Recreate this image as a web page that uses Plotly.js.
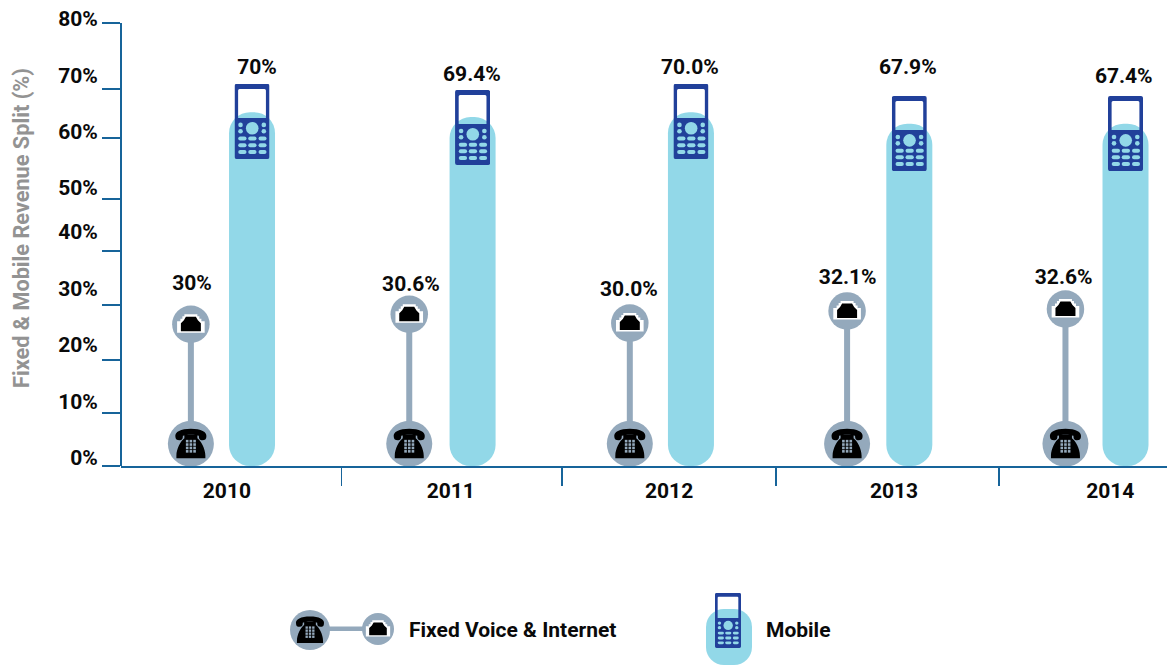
<!DOCTYPE html>
<html><head><meta charset="utf-8">
<script src="https://cdn.plot.ly/plotly-3.0.1.min.js"></script>
<style>html,body{margin:0;padding:0;background:#fff}</style>
</head><body><div id="chart" style="width:1167px;height:665px"></div>
<script>
// --- data ---
const years = [2010, 2011, 2012, 2013, 2014];
const fixedLabels = ['30%', '30.6%', '30.0%', '32.1%', '32.6%'];
const mobileLabels = ['70%', '69.4%', '70.0%', '67.9%', '67.4%'];
const fixedLevel = [25.6, 27.4, 25.8, 28.0, 28.35];
const mobileBarTop = [63.9, 63.0, 63.9, 61.8, 61.8];
const mobilePhoneTop = [69.0, 67.9, 69.0, 66.8, 66.8];
const fixedBase = [4, 4, 4, 4, 4];
const fixedX = [2009.86, 2010.86, 2011.87, 2012.865, 2013.865];
const mobileX = [2010.14, 2011.15, 2012.15, 2013.15, 2014.14];
const fixedLabelX = [2009.865, 2010.868, 2011.866, 2012.868, 2013.857];
const mobileLabelX = [2010.1625, 2011.147, 2012.145, 2013.143, 2014.132];
const fixedLabelLevel = [32.7, 32.6, 31.7, 33.8, 33.8];
const mobileLabelLevel = [71.8, 70.4, 71.65, 71.65, 70.2];
const yTickMarks = [0, 9.6, 19.2, 29, 38.8, 48.2, 59.2, 68, 80];
const yLabelLevels = [1.44, 11.71, 21.96, 31.98, 42.25, 50.18, 60.34, 70.54, 80.86];
const yLabels = ['0%','10%','20%','30%','40%','50%','60%','70%','80%'];
const xSeparators = [2010.55, 2011.56, 2012.54, 2013.56];
const xLabelLevels = [2010.025, 2011.05, 2012.05, 2013.08, 2014.07];

// --- styles ---
const BLUE = '#92d8e8', NAVY = '#21409a', SLATE = '#94a9bc', AXIS = '#17649a';
const FONT = 'Roboto, sans-serif';
const PX_X = 218.4, PX_Y = 5.5375;
const barW = 46 / PX_X;

const svg = s => 'data:image/svg+xml;base64,' + btoa(s);
const phoneSvg = svg(`<svg xmlns="http://www.w3.org/2000/svg" width="350" height="750" viewBox="0 0 35 75">
<path fill-rule="evenodd" fill="${NAVY}" d="M2 0H33A2 2 0 0 1 35 2V73A2 2 0 0 1 33 75H2A2 2 0 0 1 0 73V2A2 2 0 0 1 2 0ZM5 5A1.500 1.500 0 0 0 3.600 6.500V34H31.400V6.500A1.500 1.500 0 0 0 30 5Z"/>
<g fill="${BLUE}">
<circle cx="17.700" cy="44.300" r="6.300"/><circle cx="6" cy="41" r="2.300"/><circle cx="6" cy="47.300" r="2.300"/><circle cx="29.300" cy="41" r="2.300"/><circle cx="29.300" cy="47.300" r="2.300"/>
${[54.7,61.3,68].map(y => [[3.7,8.3],[13.7,8.3],[24,8]].map(k=>`<rect x="${k[0]}" y="${y-2}" width="${k[1]}" height="4" rx="2"/>`).join('')).join('')}
</g></svg>`);
const phoneGlyph = (cx, cy, s) => `<g transform="translate(${cx} ${cy}) scale(${s})">
<path fill="#000" d="M-15.500 -7C-16.500 -12 -10 -15 0 -15C10 -15 16.500 -12 15.500 -7C15.500 -4.500 14 -3.500 11.500 -3.500C9 -3.500 8 -4.500 8 -8C4 -9.500 -4 -9.500 -8 -8C-8 -4.500 -9 -3.500 -11.500 -3.500C-14 -3.500 -15.500 -4.500 -15.500 -7Z"/>
<path fill="#000" d="M-6.500 -9H6.500V-5.500C10 -3 14.500 5 14.500 12V14.500H-14.500V12C-14.500 5 -10 -3 -6.500 -5.500Z"/>
<g fill="${SLATE}">${[-4,-0.600,2.800,6.200].map(y=>[-5,-1.300,2.400].map(x=>`<rect x="${x}" y="${y}" width="2.600" height="2.600"/>`).join('')).join('')}</g></g>`;
const telSvg = svg(`<svg xmlns="http://www.w3.org/2000/svg" width="400" height="400" viewBox="-20 -20 40 40">${phoneGlyph(0,0,1)}</svg>`);
const jackGlyph = (cx, cy, s) => `<g transform="translate(${cx} ${cy}) scale(${s})">
<path fill="#fff" d="M-6.500 -10H6.500V-8H8.500V-5.500H10.500V-3H13.800V8.500H-13.800V-3H-10.500V-5.500H-8.500V-8H-6.500Z"/>
<path fill="#000" d="M-10 7V-1L-7 -4L-5 -7.500H5L7 -4L10 -1V7Z"/></g>`;
const jackSvg = svg(`<svg xmlns="http://www.w3.org/2000/svg" width="300" height="300" viewBox="-15 -15 30 30">${jackGlyph(0,0,1)}</svg>`);
const legendFixedSvg = svg(`<svg xmlns="http://www.w3.org/2000/svg" width="1100" height="420" viewBox="0 0 110 42">
<rect x="20" y="17.500" width="70" height="4.500" fill="${SLATE}"/><circle cx="20" cy="21" r="20" fill="${SLATE}"/><circle cx="88" cy="20" r="16" fill="${SLATE}"/>
${phoneGlyph(20,21,0.9)}${jackGlyph(88,20,0.88)}</svg>`);
const legendMobileBg = svg(`<svg xmlns="http://www.w3.org/2000/svg" width="460" height="560" viewBox="0 0 46 56"><rect width="46" height="56" rx="18" fill="${BLUE}"/></svg>`);

const common = {xaxis: 'x', yaxis: 'y', hoverinfo: 'skip', showlegend: false, cliponaxis: false};
const traces = [
  // a bar with an explicit base is rounded at both ends
  {...common, type: 'bar', x: mobileX, base: mobileBarTop.map(() => 0), y: mobileBarTop, width: barW,
    marker: {color: BLUE, line: {width: 0}, cornerradius: 21}},
  // connector stems between the two fixed-line medallions
  ...years.map((y, i) => ({...common, type: 'scatter', mode: 'lines', x: [fixedX[i], fixedX[i]], y: [fixedBase[i], fixedLevel[i]],
    line: {color: SLATE, width: 6}})),
  {...common, type: 'scatter', mode: 'markers', x: fixedX, y: fixedBase, marker: {size: 46, color: SLATE}},
  {...common, type: 'scatter', mode: 'markers', x: fixedX, y: fixedLevel, marker: {size: 37.5, color: SLATE}},
  {...common, type: 'scatter', mode: 'text', x: fixedLabelX, y: fixedLabelLevel, text: fixedLabels, textposition: 'middle center',
    textfont: {family: FONT, size: 21, weight: 700, color: '#0a0a0a'}},
  {...common, type: 'scatter', mode: 'text', x: mobileLabelX, y: mobileLabelLevel, text: mobileLabels, textposition: 'middle center',
    textfont: {family: FONT, size: 21, weight: 700, color: '#0a0a0a'}},
  // carrier of the tick-mark axes
  {...common, type: 'scatter', mode: 'markers', x: [years[0]], y: [0], xaxis: 'x2', yaxis: 'y2', marker: {size: 1, opacity: 0}},
];

const images = [];
years.forEach((y, i) => {
  images.push({source: phoneSvg, xref: 'x', yref: 'y', x: mobileX[i], y: mobilePhoneTop[i], sizex: 35 / PX_X, sizey: 75 / PX_Y,
    xanchor: 'center', yanchor: 'top', sizing: 'stretch', layer: 'above'});
  images.push({source: telSvg, xref: 'x', yref: 'y', x: fixedX[i], y: fixedBase[i], sizex: 40 / PX_X, sizey: 40 / PX_Y,
    xanchor: 'center', yanchor: 'middle', sizing: 'stretch', layer: 'above'});
  images.push({source: jackSvg, xref: 'x', yref: 'y', x: fixedX[i], y: fixedLevel[i], sizex: 30 / PX_X, sizey: 30 / PX_Y,
    xanchor: 'center', yanchor: 'middle', sizing: 'stretch', layer: 'above'});
});

// legend placement, page pixels converted to plot-paper fractions
const W = 1046, H = 451;
const px = p => (p - 121) / W, py = p => (466 - p) / H;
const legendImg = (src, l, t, w, h) => ({source: src, xref: 'paper', yref: 'paper', x: px(l), y: py(t), sizex: w / W, sizey: h / H,
  xanchor: 'left', yanchor: 'top', sizing: 'stretch', layer: 'above'});
images.push(legendImg(legendFixedSvg, 290, 609, 110, 42));
images.push(legendImg(legendMobileBg, 706, 609, 46, 56));
images.push(legendImg(phoneSvg, 715, 593, 26, 55));

const labelFont = {family: FONT, size: 21, weight: 700, color: '#0a0a0a'};
const layout = {
  width: 1167, height: 665, paper_bgcolor: '#fff', plot_bgcolor: '#fff', showlegend: false,
  margin: {l: 121, r: 0, t: 15, b: 199, pad: 0},
  barmode: 'overlay',
  xaxis: {type: 'linear', range: [2009.54, 2014.33], tickmode: 'array', tickvals: xLabelLevels, ticktext: years.map(String),
    ticks: 'outside', ticklen: 5, tickcolor: 'rgba(0,0,0,0)', tickfont: labelFont, showgrid: false, zeroline: false,
    showline: true, linecolor: AXIS, linewidth: 2, fixedrange: true},
  yaxis: {type: 'linear', range: [0, 81.44], tickmode: 'array', tickvals: yLabelLevels, ticktext: yLabels,
    ticks: 'outside', ticklen: 18, tickcolor: 'rgba(0,0,0,0)', tickfont: labelFont, showgrid: false, zeroline: false,
    showline: false, fixedrange: true},
  xaxis2: {overlaying: 'x', matches: 'x', anchor: 'y', side: 'bottom', tickmode: 'array', tickvals: xSeparators, ticktext: xSeparators.map(() => ''),
    ticks: 'outside', ticklen: 19, tickwidth: 1.5, tickcolor: AXIS, showgrid: false, zeroline: false, fixedrange: true},
  yaxis2: {overlaying: 'y', matches: 'y', anchor: 'x', side: 'left', tickmode: 'array', tickvals: yTickMarks, ticktext: yTickMarks.map(() => ''),
    ticks: 'outside', ticklen: 18, tickwidth: 2, tickcolor: AXIS, showgrid: false, zeroline: false, fixedrange: true},
  shapes: [{type: 'line', xref: 'paper', yref: 'y', x0: 0, x1: 0, y0: 0, y1: 80, line: {color: AXIS, width: 2}}],
  images,
  annotations: [
    {xref: 'paper', yref: 'paper', x: px(21), y: py(228), text: 'Fixed & Mobile Revenue Split (%)', showarrow: false, textangle: -90,
      xanchor: 'center', yanchor: 'middle', font: {family: FONT, size: 21.7, weight: 700, color: '#939393'}},
    {xref: 'paper', yref: 'paper', x: px(407), y: py(630), text: 'Fixed Voice & Internet', showarrow: false, xanchor: 'left', yanchor: 'middle', font: labelFont},
    {xref: 'paper', yref: 'paper', x: px(764), y: py(630), text: 'Mobile', showarrow: false, xanchor: 'left', yanchor: 'middle', font: labelFont},
  ],
};
Plotly.newPlot('chart', traces, layout, {displayModeBar: false, responsive: false, staticPlot: true});
</script></body></html>
